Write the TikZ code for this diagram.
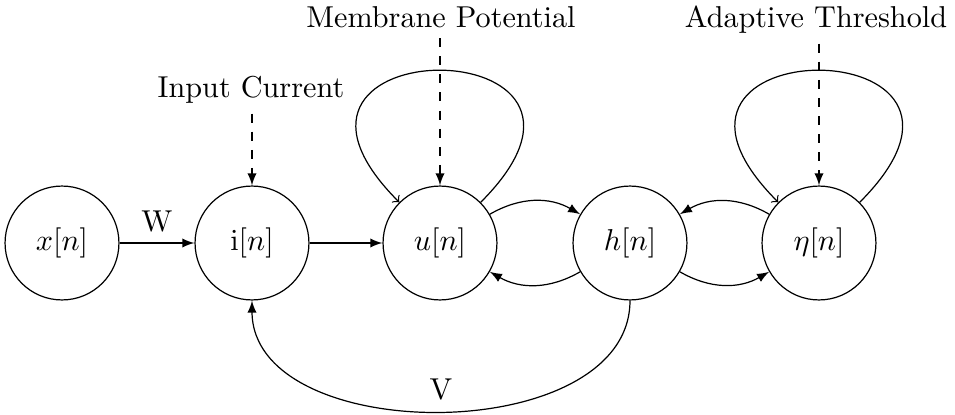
\documentclass[tikz,border=0pt]{standalone}
\usetikzlibrary{arrows}
\begin{document}
\begin{tikzpicture}[x=0.331pt,y=-0.331pt,
  state/.style={circle,draw,minimum size=37.7pt,inner sep=0pt},
  lbl/.style={anchor=base},
  flow/.style={-latex},
  inject/.style={dashed,-latex},
  selfloop/.style={->}]
\useasboundingbox (0,0) rectangle (955,415);
\node[state] (x) at (62,243) {$x[n]$};
\node[state] (i) at (252,243) {$\mathrm{i}[n]$};
\node[state] (u) at (440,243) {$u[n]$};
\node[state] (h) at (630,243) {$h[n]$};
\node[state] (eta) at (819,243) {$\eta[n]$};
\node[lbl] (lin) at (251,97) {Input Current};
\node[lbl] (lmp) at (441,27) {Membrane Potential};
\node[lbl] (lat) at (816,27) {Adaptive Threshold};
% loops
\draw[selfloop] (u.45) .. controls +(176,-176) and +(-176,-176) .. (u.135);
\draw[selfloop] (eta.45) .. controls +(176,-176) and +(-176,-176) .. (eta.135);
% dashed inputs
\draw[inject] (lin.south -| i) -- (i.north);
\draw[inject] (lmp.south -| u) -- (u.north);
\draw[inject] (lat.south -| eta) -- (eta.north);
% flows
\draw[flow] (x) -- node[above] (w) {W} (i);
\draw[flow] (i) -- (u);
\draw[flow] (u) to[bend left=30] (h);
\draw[flow] (h) to[bend left=30] (u);
\draw[flow] (eta) to[bend right=30] (h);
\draw[flow] (h) to[bend right=30] (eta);
\draw[flow] (h.south) to[out=-90,in=-90] node[above] (v) {V} (i.south);
\end{tikzpicture}
\end{document}
